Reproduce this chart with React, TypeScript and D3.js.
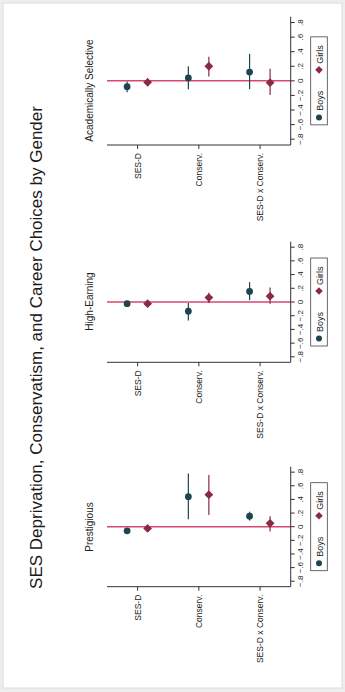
import React from 'react'
import * as d3 from 'd3'

// coefficient estimates: [estimate, lower, upper]
const categories = ['SES-D', 'Conserv.', 'SES-D x Conserv.']
const panelTitles = ['Prestigious', 'High-Earning', 'Academically Selective']
const tickValues = [-0.8, -0.6, -0.4, -0.2, 0, 0.2, 0.4, 0.6, 0.8]

const prestigiousBoys = [[-0.06, -0.09, -0.03], [0.44, 0.11, 0.78], [0.155, 0.09, 0.22]]
const prestigiousGirls = [[-0.025, -0.06, 0.015], [0.47, 0.17, 0.76], [0.05, -0.07, 0.155]]
const earningBoys = [[-0.025, -0.05, 0.0], [-0.135, -0.27, -0.015], [0.155, 0.025, 0.29]]
const earningGirls = [[-0.025, -0.055, 0.01], [0.065, -0.015, 0.135], [0.085, -0.025, 0.21]]
const selectiveBoys = [[-0.08, -0.155, -0.01], [0.04, -0.115, 0.2], [0.12, -0.115, 0.37]]
const selectiveGirls = [[-0.02, -0.07, 0.035], [0.2, 0.06, 0.33], [-0.025, -0.195, 0.165]]

const boysColor = '#1e4450'
const girlsColor = '#8a2b45'
const font = 'Liberation Sans, Arial, sans-serif'

// rotated layout: u runs along the page bottom->top, v left->right
const panelRanges = [[105.3, 225.3], [329.7, 450.3], [547, 675.3]]
const titleCenters = [165, 390.5, 601.5]
const catV0 = 107
const catV1 = 290.7

function Panel({title, titleU, boys, girls, range}) {
  const x = d3.scaleLinear().domain([-0.88, 0.88]).range(range)
  const y = d3.scalePoint().domain(categories).range([catV0, catV1]).padding(0.5)
  const u0 = range[0]
  const mid = (range[0] + range[1]) / 2
  const fmt = (d) => d === 0 ? '0' : d3.format('.1f')(d).replace('0.', '.')
  const legLeft = mid - 44
  const diamond = (cx, cy, r) => `M${cx},${cy - r}L${cx + r},${cy}L${cx},${cy + r}L${cx - r},${cy}Z`

  return (
    <g>
      <text x={titleU} y={92.5} textAnchor="middle" fontSize={10} fontFamily={font} fill="#222">{title}</text>
      {/* zero line */}
      <line x1={x(0)} x2={x(0)} y1={catV0} y2={catV1} stroke="#d8486e" strokeWidth={1.5} />
      {/* category axis */}
      <line x1={u0} x2={u0} y1={catV0} y2={catV1} stroke="#333" strokeWidth={1} />
      {categories.map(c => (
        <g key={c}>
          <line x1={u0} x2={u0 - 4} y1={y(c)} y2={y(c)} stroke="#333" />
          <text x={u0 - 8} y={y(c)} dy="0.35em" textAnchor="end" fontSize={8.5} fontFamily={font} fill="#222">{c}</text>
        </g>
      ))}
      {/* value axis */}
      <line x1={range[0]} x2={range[1]} y1={catV1} y2={catV1} stroke="#333" strokeWidth={1} />
      {tickValues.map(t => (
        <g key={t}>
          <line x1={x(t)} x2={x(t)} y1={catV1} y2={catV1 + 4} stroke="#333" />
          <text x={x(t)} y={303} textAnchor="middle" fontSize={8} fontFamily={font} fill="#222">{fmt(t)}</text>
        </g>
      ))}
      {/* estimates */}
      {boys.map((d, i) => (
        <g key={'b' + i}>
          <line x1={x(d[1])} x2={x(d[2])} y1={y(categories[i]) - 10.5} y2={y(categories[i]) - 10.5} stroke={boysColor} strokeWidth={1.2} />
          <circle cx={x(d[0])} cy={y(categories[i]) - 10.5} r={3.4} fill={boysColor} />
        </g>
      ))}
      {girls.map((d, i) => (
        <g key={'g' + i}>
          <line x1={x(d[1])} x2={x(d[2])} y1={y(categories[i]) + 10} y2={y(categories[i]) + 10} stroke={girlsColor} strokeWidth={1.2} />
          <path d={diamond(x(d[0]), y(categories[i]) + 10, 4.4)} fill={girlsColor} />
        </g>
      ))}
      {/* legend */}
      <rect x={legLeft} y={310.7} width={88} height={16.6} fill="#fff" stroke="#444" strokeWidth={0.8} />
      <circle cx={legLeft + 7.4} cy={319} r={3} fill={boysColor} />
      <text x={legLeft + 14} y={322.5} fontSize={9} fontFamily={font} fill="#222">Boys</text>
      <path d={diamond(legLeft + 55, 319, 3.8)} fill={girlsColor} />
      <text x={legLeft + 61} y={322.5} fontSize={9} fontFamily={font} fill="#222">Girls</text>
    </g>
  )
}

export default function App() {
  const boys = [prestigiousBoys, earningBoys, selectiveBoys]
  const girls = [prestigiousGirls, earningGirls, selectiveGirls]
  return (
    <svg width={345} height={692} style={{position: 'absolute', left: 0, top: 0}}>
      <rect x={0} y={0} width={345} height={692} fill="#eeeeee" />
      <rect x={3} y={3} width={339} height={685} fill="#ffffff" stroke="#dcdcdc" />
      <g transform="translate(0,692) rotate(-90)">
        <text x={344.5} y={42} textAnchor="middle" fontSize={17} fontFamily={font} fill="#1a1a1a">
          SES Deprivation, Conservatism, and Career Choices by Gender
        </text>
        {panelTitles.map((t, i) => (
          <Panel key={t} title={t} titleU={titleCenters[i]} boys={boys[i]} girls={girls[i]} range={panelRanges[i]} />
        ))}
      </g>
    </svg>
  )
}
